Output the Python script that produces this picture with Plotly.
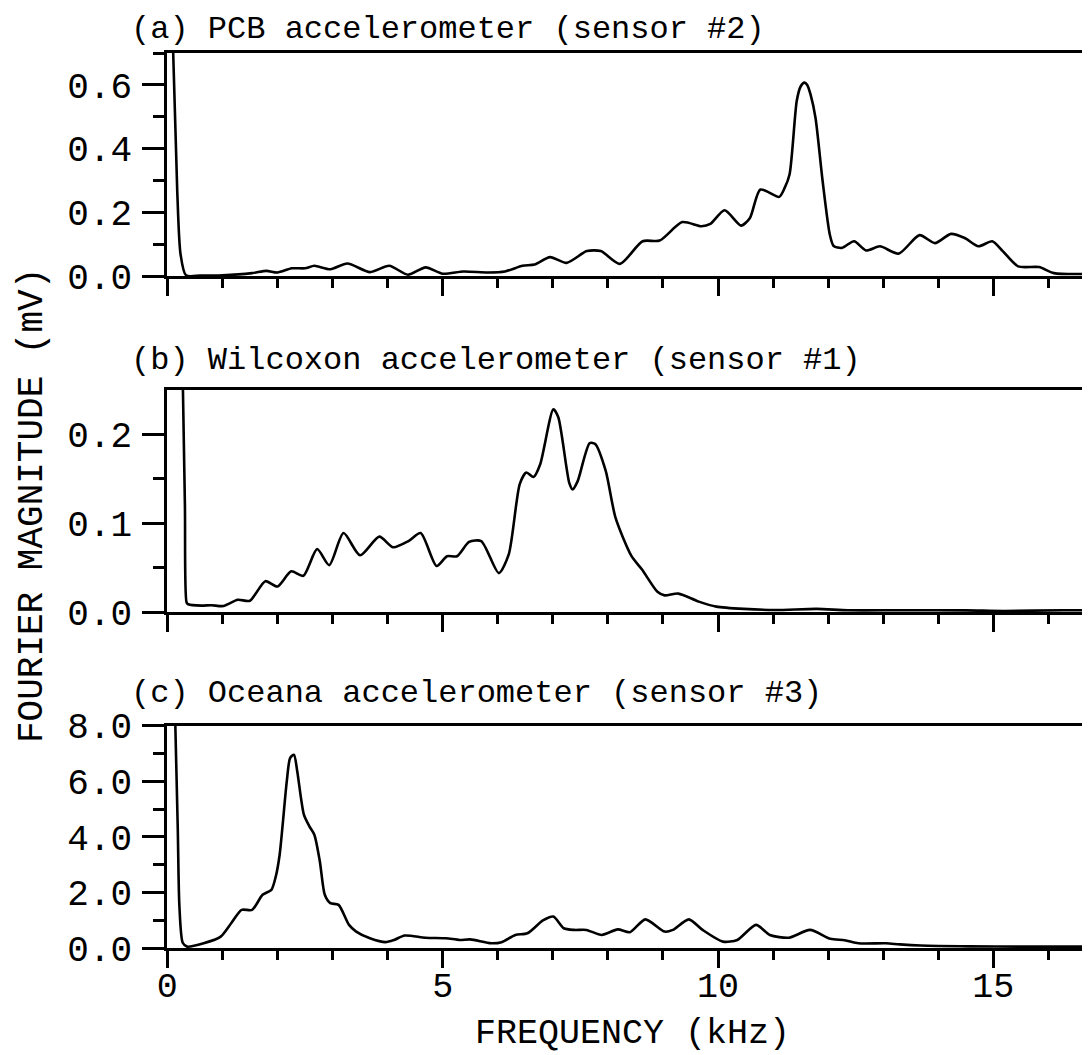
import plotly.graph_objects as go

# ---------------- data ----------------
freq_a = [0.09, 0.18, 0.24, 0.34, 0.6, 1.0, 1.54, 1.8, 2.0, 2.26, 2.5, 2.67, 2.96, 3.27, 3.68,
          4.03, 4.37, 4.69, 5.0, 5.38, 5.82, 6.13, 6.45, 6.67, 6.95, 7.25, 7.62, 7.87, 8.22,
          8.63, 8.94, 9.35, 9.7, 9.86, 10.12, 10.42, 10.58, 10.77, 11.11, 11.21, 11.3, 11.43,
          11.5, 11.57, 11.62, 11.68, 11.77, 11.9, 12.03, 12.1, 12.25, 12.47, 12.69, 12.94,
          13.28, 13.66, 13.94, 14.23, 14.48, 14.73, 14.98, 15.17, 15.45, 15.83, 16.1, 16.9]
mag_a = [0.8, 0.27, 0.07, 0.003, 0.002, 0.003, 0.01, 0.017, 0.012, 0.025, 0.025, 0.033, 0.022,
         0.04, 0.013, 0.033, 0.005, 0.028, 0.008, 0.015, 0.012, 0.015, 0.033, 0.037, 0.06,
         0.042, 0.079, 0.079, 0.039, 0.11, 0.112, 0.17, 0.157, 0.164, 0.207, 0.159, 0.183,
         0.272, 0.249, 0.277, 0.32, 0.55, 0.595, 0.607, 0.6, 0.57, 0.497, 0.298, 0.131, 0.095,
         0.089, 0.11, 0.081, 0.094, 0.071, 0.129, 0.104, 0.133, 0.12, 0.094, 0.11, 0.079,
         0.031, 0.029, 0.01, 0.008]

freq_b = [0.27, 0.32, 0.35, 0.38, 0.62, 0.8, 1.02, 1.28, 1.5, 1.78, 2.0, 2.25, 2.47, 2.72, 2.94,
          3.2, 3.5, 3.85, 4.1, 4.38, 4.6, 4.89, 5.08, 5.26, 5.48, 5.7, 6.02, 6.2, 6.4, 6.52,
          6.65, 6.77, 7.01, 7.1, 7.3, 7.36, 7.45, 7.67, 7.77, 7.96, 8.14, 8.43, 8.62, 8.9,
          9.03, 9.28, 9.65, 9.97, 10.47, 11.04, 11.79, 12.36, 13.3, 14.5, 15.19, 16.26, 16.9]
mag_b = [0.3, 0.12, 0.011, 0.009, 0.0075, 0.008, 0.007, 0.014, 0.013, 0.035, 0.029, 0.046,
         0.041, 0.071, 0.053, 0.089, 0.064, 0.085, 0.073, 0.08, 0.089, 0.052, 0.063, 0.063,
         0.079, 0.08, 0.044, 0.065, 0.144, 0.157, 0.152, 0.166, 0.228, 0.219, 0.145, 0.138,
         0.147, 0.19, 0.189, 0.159, 0.106, 0.063, 0.048, 0.023, 0.019, 0.021, 0.012, 0.0064,
         0.0038, 0.0026, 0.0038, 0.0023, 0.0023, 0.0022, 0.0015, 0.0023, 0.0023]

freq_c = [0.14, 0.19, 0.22, 0.28, 0.36, 0.66, 0.97, 1.16, 1.35, 1.54, 1.73, 1.89, 1.97, 2.04,
          2.17, 2.23, 2.3, 2.36, 2.48, 2.58, 2.67, 2.77, 2.86, 2.96, 3.11, 3.3, 3.43, 3.68,
          3.96, 4.12, 4.31, 4.69, 5.06, 5.31, 5.5, 5.88, 6.07, 6.32, 6.54, 6.82, 7.01, 7.2,
          7.39, 7.61, 7.89, 8.18, 8.4, 8.68, 9.03, 9.18, 9.47, 9.72, 10.09, 10.35, 10.69,
          10.94, 11.29, 11.67, 12.04, 12.3, 12.55, 13.05, 13.3, 13.68, 14.56, 15.5, 16.9]
mag_c = [8.5, 4.3, 1.5, 0.2, 0.06, 0.18, 0.42, 0.9, 1.38, 1.38, 1.92, 2.1, 2.58, 3.36, 6.0,
         6.83, 6.95, 6.35, 4.8, 4.38, 4.08, 3.12, 1.92, 1.62, 1.56, 0.84, 0.6, 0.36, 0.22,
         0.3, 0.46, 0.38, 0.36, 0.3, 0.32, 0.18, 0.22, 0.48, 0.54, 1.0, 1.14, 0.72, 0.66,
         0.66, 0.48, 0.68, 0.58, 1.04, 0.6, 0.66, 1.04, 0.66, 0.24, 0.3, 0.84, 0.48, 0.38,
         0.66, 0.34, 0.29, 0.18, 0.18, 0.14, 0.1, 0.07, 0.06, 0.06]

panel_titles = ["(a) PCB accelerometer (sensor #2)",
                "(b) Wilcoxon accelerometer (sensor #1)",
                "(c) Oceana accelerometer (sensor #3)"]
x_ticks = [0, 5, 10, 15]
y_ticks_a = [0.0, 0.2, 0.4, 0.6]
y_minor_a = [0.1, 0.3, 0.5, 0.7]
y_ticks_b = [0.0, 0.1, 0.2]
y_minor_b = [0.05, 0.15]
y_ticks_c = [0.0, 2.0, 4.0, 6.0, 8.0]
y_minor_c = [1.0, 3.0, 5.0, 7.0]

# ---------------- figure ----------------
FONT = "Liberation Mono"
W, H = 1090, 1055
fig = go.Figure()
line = dict(color="black", width=2.6, shape="spline", smoothing=0.7)
fig.add_trace(go.Scatter(x=freq_a, y=mag_a, mode="lines", line=line, xaxis="x", yaxis="y"))
fig.add_trace(go.Scatter(x=freq_b, y=mag_b, mode="lines", line=line, xaxis="x2", yaxis="y2"))
fig.add_trace(go.Scatter(x=freq_c, y=mag_c, mode="lines", line=line, xaxis="x3", yaxis="y3"))

x_dom = [159.3 / W, 1.0]
def ydom(top_px, bot_px):
    return [1 - bot_px / H, 1 - top_px / H]

def xax(anchor, show_labels):
    return dict(
        anchor=anchor, domain=x_dom, range=[0, 16.9],
        showline=True, linecolor="black", linewidth=3, mirror=True,
        ticks="outside", tickcolor="black", tickwidth=3, ticklen=17,
        tickvals=x_ticks, showticklabels=show_labels,
        tickfont=dict(family=FONT, size=35, color="black"), ticklabelstandoff=-13,
        minor=dict(dtick=1, tick0=0, ticks="outside", ticklen=9, tickwidth=3,
                   tickcolor="black", showgrid=False),
        showgrid=False, zeroline=False, automargin=False,
    )

def yax(anchor, dom, rng, tv, mv):
    return dict(
        anchor=anchor, domain=dom, range=rng,
        showline=True, linecolor="black", linewidth=3, mirror=False,
        ticks="outside", tickcolor="black", tickwidth=3, ticklen=22,
        tickvals=tv, tickformat=".1f",
        tickfont=dict(family=FONT, size=36, color="black"), ticklabelstandoff=3,
        minor=dict(tickvals=mv, ticks="outside", ticklen=11, tickwidth=3,
                   tickcolor="black", showgrid=False),
        showgrid=False, zeroline=False, automargin=False,
    )

fig.update_layout(
    width=W, height=H, margin=dict(l=0, r=0, t=0, b=0),
    paper_bgcolor="white", plot_bgcolor="white", showlegend=False,
    font=dict(family=FONT, color="black"),
    xaxis=xax("y", False), xaxis2=xax("y2", False), xaxis3=xax("y3", True),
    yaxis=yax("x", ydom(45, 268.3), [0, 0.7], y_ticks_a, y_minor_a),
    yaxis2=yax("x2", ydom(381.7, 604.3), [0, 0.25], y_ticks_b, y_minor_b),
    yaxis3=yax("x3", ydom(717.5, 940.3), [0, 8.0], y_ticks_c, y_minor_c),
)

title_y = [22, 352, 685]
for t, py in zip(panel_titles, title_y):
    fig.add_annotation(text=t, xref="paper", yref="paper", x=121 / W, y=1 - py / H,
                       xanchor="left", yanchor="middle", showarrow=False,
                       font=dict(family=FONT, size=32, color="black"))

fig.add_annotation(text="FOURIER MAGNITUDE (mV)", xref="paper", yref="paper",
                   x=24 / W, y=1 - 498 / H, textangle=-90, xanchor="center", yanchor="middle",
                   showarrow=False, font=dict(family=FONT, size=36, color="black"))
fig.add_annotation(text="FREQUENCY (kHz)", xref="paper", yref="paper",
                   x=(159.3 + 1090) / 2 / W, y=1 - 1026 / H, xanchor="center", yanchor="middle",
                   showarrow=False, font=dict(family=FONT, size=35, color="black"))

fig.write_html("out.html")
